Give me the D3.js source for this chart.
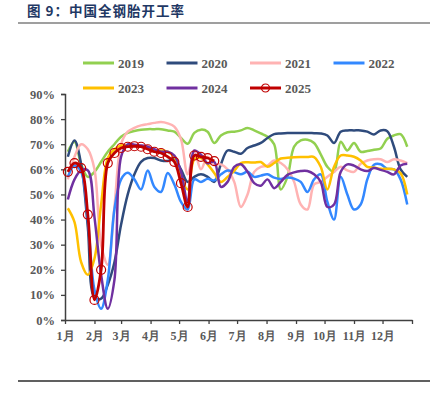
<!DOCTYPE html>
<html>
<head>
<meta charset="utf-8">
<title>中国全钢胎开工率</title>
<script src="https://d3js.org/d3.v7.min.js"></script>
<style>
  body { margin: 0; background: #fff; }
  svg { display: block; }
</style>
</head>
<body>
<script>
// weekly values (%), one point per week
var y2019 = [67,71,62,57,59,63,67,70,73,74.5,75.3,75.8,76,76,76,75.5,75,72.5,70.2,74.5,75.8,75,70.5,73.5,74.8,75,75.5,76.5,75.5,74.3,73,70,52,57,69,71.5,71.8,70.5,66,61,59,71,67.5,70.5,67,67.3,67.8,68.3,72.2,73.5,74,69];
var y2020 = [65,71.5,62,37,9,8.5,14,23,38,50,58,63,64.5,64.5,63.5,63.3,64,60,55,57,58,57,55,62,67.5,67,66.2,68.5,69.5,70.5,72.5,74,74.3,74.5,74.5,74.5,74.5,74.4,74.3,73.5,70.5,75,75.5,75.5,75.5,75,73.9,75.5,75.2,69,60,57];
var y2021 = [56,65,70,68,60,30,22,45,70,75,76.5,77.5,78,78.5,78.8,78.3,77,72,58,67,60,65,62,62,60,55,45,50,59,61,61.5,63.5,62.5,60,55,46,44,54,55,57,59,61,59.6,59,62.2,63.5,64,64,62.9,64,63.5,62.5];
var y2022 = [57,61.5,59,40,12,4.5,16,44,56,58.6,56,52,59.5,53,51,58.5,54,47,44,56,55,56.2,55.6,58,59.5,58.9,58,59,57,57.5,58,56.7,56.2,56.7,56.3,55,51,56,58,47,40,57,50,44,46,56,61.8,62,60.2,60,56,46];
var y2023 = [44.5,39,23,18,24.5,46,64.5,68,69.5,69.5,69.5,69,68.5,67.5,67.5,67,65,57,52,64,64.5,62,58.5,55,57,59.4,62.5,62.8,62.7,62.9,61,62.5,64.3,64.6,64.8,64.9,64.9,64.9,61,52,61,65.5,65.5,65,63.5,61,60.7,60.2,60.2,60,58.5,50];
var y2024 = [48,56,59.7,59.6,41,18,4.5,16,65,70,69.8,69.5,69,68,67,67,65.5,59,47,67.5,65.8,62.4,63,53,55,61,62,59,54.5,53.5,56,52.5,55,57.8,58.8,59.3,59.3,58,55,45,46,59,62,61.5,60,59.3,60.5,59.8,59,58,61.5,62.2];
var y2025 = [59,62.5,60.5,42,8,20,62.5,66.5,68.5,69,69.2,69,68,67,66.5,65,63,54.5,45,65.5,65,64.5,63.3];

var seriesNames = ["2019", "2020", "2021", "2022", "2023", "2024", "2025"];
var seriesValues = [y2019, y2020, y2021, y2022, y2023, y2024, y2025];
var seriesColors = ["#92D050", "#2F4B7C", "#FFB3B3", "#3388FF", "#FFC000", "#7030A0", "#C00000"];
var monthLabels = ["1月","2月","3月","4月","5月","6月","7月","8月","9月","10月","11月","12月"];
var yTicks = [0, 0.1, 0.2, 0.3, 0.4, 0.5, 0.6, 0.7, 0.8, 0.9];

var W = 443, H = 396;
var svg = d3.select("body").append("svg").attr("width", W).attr("height", H);

// title + rules
svg.append("text")
  .attr("x", 27).attr("y", 16)
  .style("font-family", "'Noto Sans CJK SC', sans-serif")
  .style("font-weight", "bold")
  .style("font-size", "13.5px")
  .style("letter-spacing", "1px")
  .style("fill", "#1F3864")
  .text("图 9：中国全钢胎开工率");
svg.append("line").attr("x1", 18).attr("x2", 430).attr("y1", 23).attr("y2", 23)
  .style("stroke", "#404040").style("stroke-width", 1.2);
svg.append("line").attr("x1", 18).attr("x2", 430).attr("y1", 381).attr("y2", 381)
  .style("stroke", "#606060").style("stroke-width", 1.8);

// scales
var x = d3.scaleTime()
  .domain([new Date(2021, 0, 1), new Date(2022, 0, 1)])
  .range([65, 412]);
var y = d3.scaleLinear().domain([0, 0.9]).range([320, 94]);
function weekDate(i) { return new Date(2021, 0, 4 + 7 * i); }

var axisFont = "'Liberation Serif', 'Times New Roman', serif";

// y axis
var yAxis = svg.append("g")
  .attr("transform", "translate(65,0)")
  .call(d3.axisLeft(y).tickValues(yTicks).tickFormat(d3.format(".0%")).tickSize(4).tickPadding(6));
yAxis.select(".domain").style("stroke", "#404040").style("stroke-width", 1.5);
yAxis.selectAll(".tick line").style("stroke", "#404040").style("stroke-width", 1.3);
yAxis.selectAll("text")
  .style("font-family", axisFont).style("font-weight", "bold")
  .style("font-size", "12.5px").style("fill", "#595959");

// x axis
var monthTicks = d3.timeMonth.range(new Date(2021, 0, 1), new Date(2022, 0, 2));
var xAxis = svg.append("g")
  .attr("transform", "translate(0,320)")
  .call(d3.axisBottom(x).tickValues(monthTicks)
    .tickFormat(function(d, i) { return i < 12 ? monthLabels[i] : ""; })
    .tickSize(4).tickSizeOuter(0).tickPadding(7));
xAxis.select(".domain").style("stroke", "#404040").style("stroke-width", 1.5);
xAxis.selectAll(".tick line").style("stroke", "#404040").style("stroke-width", 1.3);
xAxis.selectAll("text")
  .style("font-family", axisFont).style("font-weight", "bold")
  .style("font-size", "12px").style("fill", "#595959");

// lines
var line = d3.line()
  .x(function(d, i) { return x(weekDate(i)); })
  .y(function(d) { return y(d / 100); })
  .curve(d3.curveCatmullRom.alpha(0.5));

seriesValues.forEach(function(vals, k) {
  svg.append("path")
    .datum(vals)
    .attr("d", line)
    .style("fill", "none")
    .style("stroke", seriesColors[k])
    .style("stroke-width", k === 6 ? 2.8 : 2.5)
    .style("stroke-linejoin", "round");
});

// 2025 markers
svg.append("g").selectAll("circle")
  .data(y2025)
  .enter().append("circle")
  .attr("cx", function(d, i) { return x(weekDate(i)); })
  .attr("cy", function(d) { return y(d / 100); })
  .attr("r", 4.5)
  .style("fill", "none")
  .style("stroke", "#C00000")
  .style("stroke-width", 1.2);

// legend
var legend = svg.append("g").selectAll("g")
  .data(seriesNames)
  .enter().append("g")
  .attr("transform", function(d, i) {
    return "translate(" + (83 + (i % 4) * 83.5) + "," + (i < 4 ? 63 : 88) + ")";
  });
legend.append("line")
  .attr("x1", 0).attr("x2", 31).attr("y1", 0).attr("y2", 0)
  .style("stroke", function(d, i) { return seriesColors[i]; })
  .style("stroke-width", 3);
legend.filter(function(d) { return d === "2025"; })
  .append("circle")
  .attr("cx", 15.5).attr("cy", 0).attr("r", 4)
  .style("fill", "none").style("stroke", "#C00000").style("stroke-width", 1.2);
legend.append("text")
  .attr("x", 35).attr("y", 0).attr("dy", "0.35em")
  .style("font-family", axisFont).style("font-weight", "bold")
  .style("font-size", "13px").style("fill", "#595959")
  .text(function(d) { return d; });
</script>
</body>
</html>
